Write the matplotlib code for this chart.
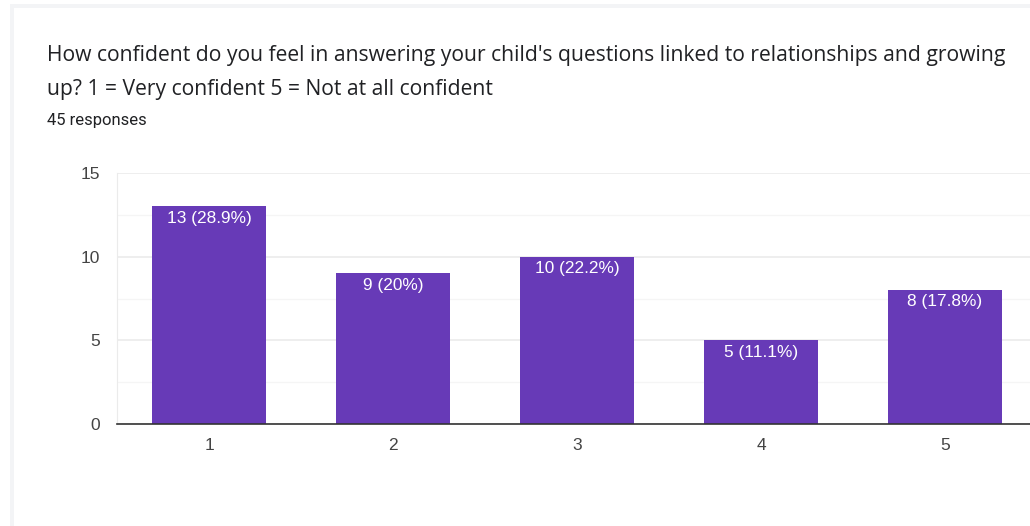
import matplotlib.pyplot as plt
from matplotlib.patches import Rectangle

# survey answers (1 = very confident, 5 = not at all confident)
categories = ["1", "2", "3", "4", "5"]
counts = [13, 9, 10, 5, 8]
percents = ["28.9%", "20%", "22.2%", "11.1%", "17.8%"]
total = 45

title = ("How confident do you feel in answering your child's questions linked to relationships and growing\n"
         "up? 1 = Very confident 5 = Not at all confident")

plt.rcParams["font.family"] = ["Roboto", "DejaVu Sans"]
ARIAL = ["Liberation Sans", "DejaVu Sans"]

W, H = 1030, 526
fig = plt.figure(figsize=(W / 100, H / 100), dpi=100)
fig.patch.set_facecolor("white")

# faint card border, top and left
fig.add_artist(Rectangle((10 / W, 0), 4 / W, 1 - 4 / H, transform=fig.transFigure,
                         color="#f3f4f6", lw=0))
fig.add_artist(Rectangle((10 / W, 1 - 8 / H), 1, 4 / H, transform=fig.transFigure,
                         color="#f3f4f6", lw=0))

line1, line2 = title.split("\n")
fig.text(47 / W, 1 - 56 / H, line1, fontsize=15.2, family=["Open Sans", "DejaVu Sans"],
         color="#202124", va="center")
fig.text(47 / W, 1 - 90 / H, line2, fontsize=15.2, family=["Open Sans", "DejaVu Sans"],
         color="#202124", va="center")
fig.text(47 / W, 1 - 120 / H, f"{total} responses", fontsize=12, color="#202124", va="center")

# plot area runs off the right edge like the screenshot
ax = fig.add_axes([117 / W, (H - 424) / H, 920 / W, 251 / H])
x = list(range(1, len(categories) + 1))
bars = ax.bar(x, counts, width=0.615, color="#673ab7", zorder=3)

for b, c, p in zip(bars, counts, percents):
    ax.text(b.get_x() + b.get_width() / 2, c - 0.25, f"{c} ({p})", ha="center", va="top",
            color="white", fontsize=12.4, family=ARIAL, zorder=4)

ax.set_xlim(0.5, 5.5)
ax.set_ylim(0, 15)
ax.set_yticks([0, 5, 10, 15])
ax.set_yticks([2.5, 7.5, 12.5], minor=True)
ax.set_xticks(x)
ax.set_xticklabels(categories)
for lab in ax.get_xticklabels() + ax.get_yticklabels():
    lab.set_family(ARIAL)
ax.grid(axis="y", which="major", color="#ebebeb", lw=1.2, zorder=0)
ax.grid(axis="y", which="minor", color="#f5f5f5", lw=1.0, zorder=0)
ax.tick_params(axis="both", which="both", length=0, labelsize=12.5, colors="#444444")
ax.tick_params(axis="y", pad=12)
ax.tick_params(axis="x", pad=10)
for s in ["top", "right"]:
    ax.spines[s].set_visible(False)
ax.spines["left"].set_color("#ebebeb")
ax.spines["bottom"].set_color("#333333")
ax.spines["bottom"].set_linewidth(1.2)
ax.spines["bottom"].set_zorder(5)

fig.savefig("out.png", dpi=100)
